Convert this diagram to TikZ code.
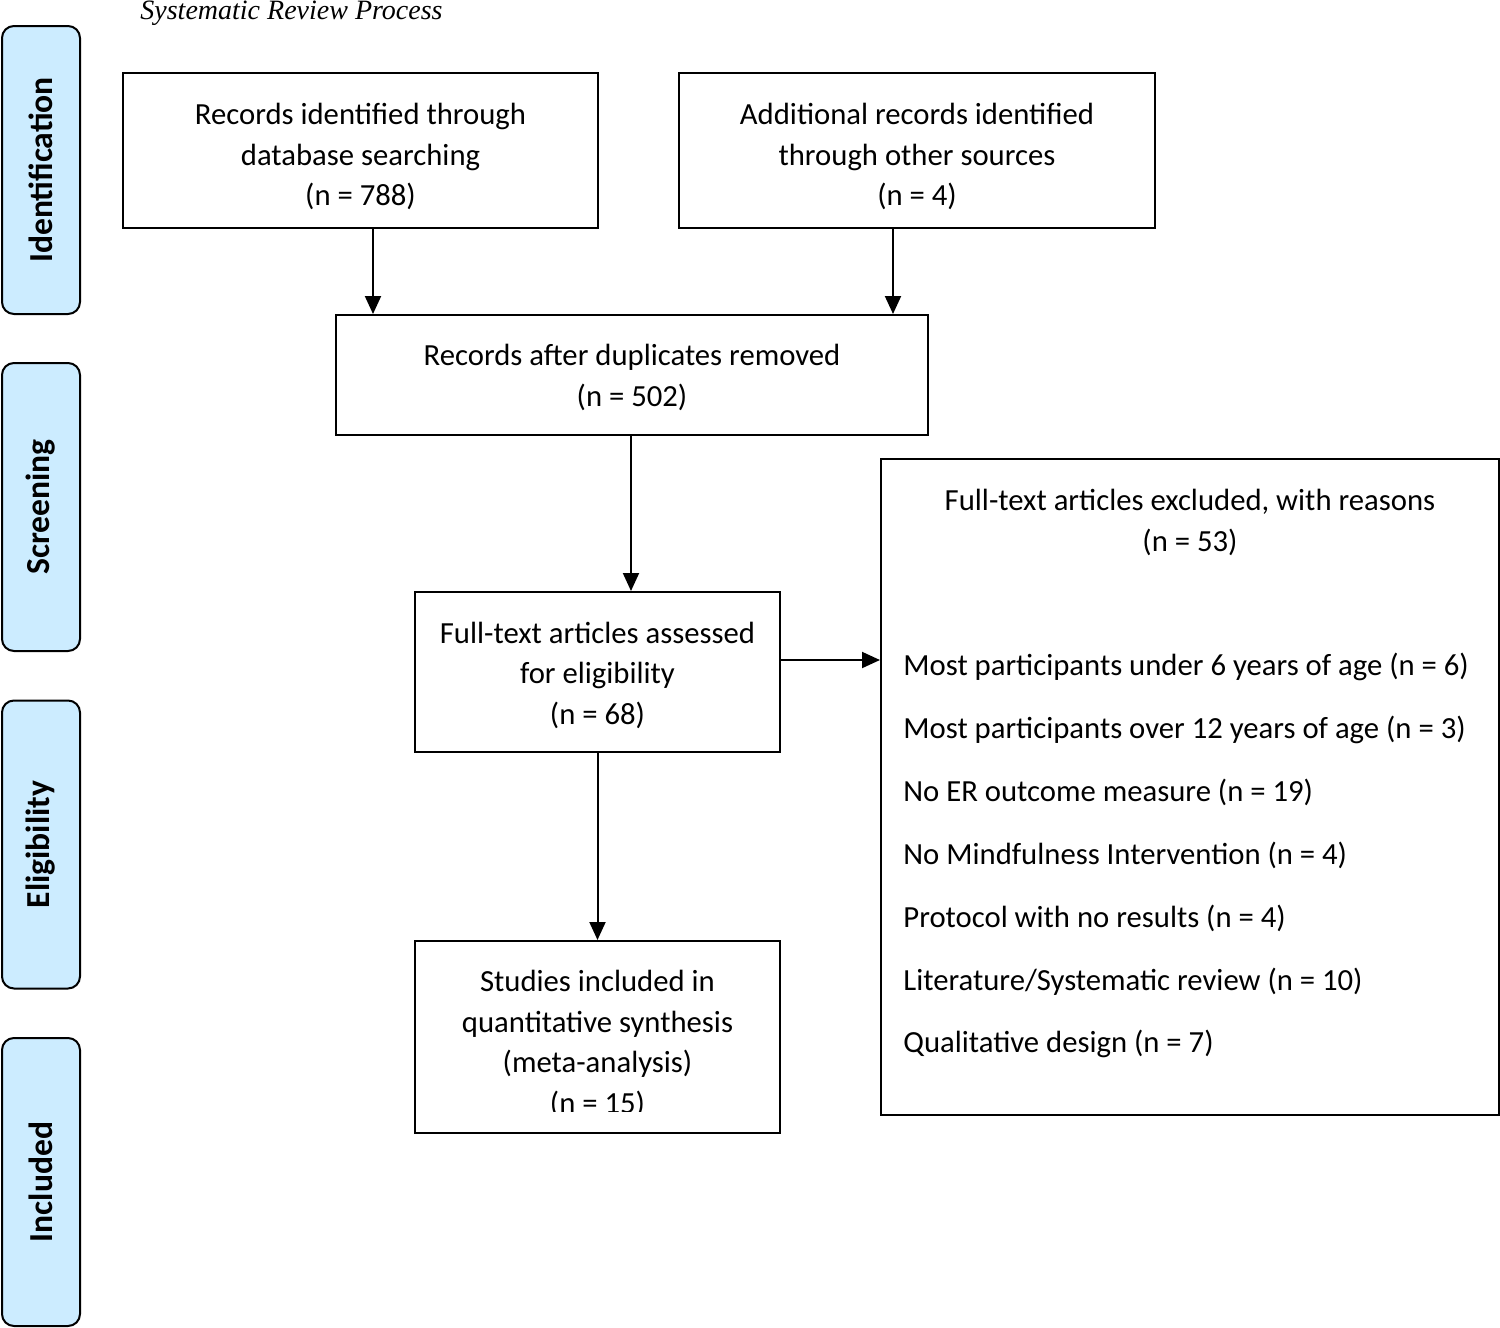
\documentclass[tikz,border=0pt]{standalone}
\usepackage{fontspec}
\setmainfont{Carlito}
\newfontfamily\titlefont{Liberation Serif}
\usetikzlibrary{arrows.meta}
\definecolor{phasefill}{HTML}{CCECFF}
\begin{document}
\begin{tikzpicture}[x=0.5pt,y=-0.5pt,
  box/.style={draw, line width=1pt, inner sep=0pt},
  txt/.style={align=center, inner sep=0pt, font=\fontsize{15.35}{20.25}\selectfont},
  phase/.style={draw, line width=1pt, fill=phasefill, rounded corners=6pt,
    minimum width=39pt, minimum height=144pt, inner sep=0pt},
  phaselabel/.style={rotate=90, inner sep=0pt, font=\bfseries\fontsize{16.8}{20}\selectfont},
  item/.style={anchor=base west, inner sep=0pt, font=\fontsize{15.35}{20.25}\selectfont},
  arr/.style={line width=1pt, -{Triangle[length=9pt,width=8pt]}}]
\useasboundingbox (0,0) rectangle (1500,1328);

% title
\node[anchor=base west, inner sep=0pt, font=\titlefont\itshape\fontsize{14}{16}\selectfont]
  (title) at (140,19) {Systematic Review Process};

% phase bars
\node[phase] (pid) at (41,170) {};
\node[phaselabel] (pidt) at (pid.center) {Identification};
\node[phase] (psc) at (41,507) {};
\node[phaselabel] (psct) at (psc.center) {Screening};
\node[phase] (pel) at (41,844.5) {};
\node[phaselabel] (pelt) at (pel.center) {Eligibility};
\node[phase] (pin) at (41,1182) {};
\node[phaselabel] (pint) at (pin.center) {Included};

% boxes
\node[box, minimum width=237.5pt, minimum height=77.5pt] (db) at (360.5,150.5) {};
\node[txt] (dbt) at (360.5,156.5)
  {Records identified through\\database searching\\(n = 788)};
\node[box, minimum width=238pt, minimum height=77.5pt] (other) at (917,150.5) {};
\node[txt] (othert) at (917,156.5)
  {Additional records identified\\through other sources\\(n = 4)};
\node[box, minimum width=296pt, minimum height=60pt] (dup) at (632,375) {};
\node[txt] (dupt) at (632,377.5)
  {Records after duplicates removed\\(n = 502)};
\node[box, minimum width=182.5pt, minimum height=80pt] (full) at (597.5,672) {};
\node[txt] (fullt) at (597.5,675)
  {Full-text articles assessed\\for eligibility\\(n = 68)};
\node[box, minimum width=182.5pt, minimum height=96pt] (incl) at (597.5,1037) {};
\begin{scope}
  \clip (415,941) rectangle (780,1111);
  \node[txt] (inclt) at (597.5,1044)
    {Studies included in\\quantitative synthesis\\(meta-analysis)\\(n = 15)};
\end{scope}
\node[box, minimum width=309pt, minimum height=328pt] (excl) at (1190,787) {};
\node[txt] (exclhead) at (1190,522.5)
  {Full-text articles excluded, with reasons\\(n = 53)};
\node[item] (r1) at (903,675) {Most participants under 6 years of age (n = 6)};
\node[item] (r2) at (903,738) {Most participants over 12 years of age (n = 3)};
\node[item] (r3) at (903,801) {No ER outcome measure (n = 19)};
\node[item] (r4) at (903,864) {No Mindfulness Intervention (n = 4)};
\node[item] (r5) at (903,927) {Protocol with no results (n = 4)};
\node[item] (r6) at (903,990) {Literature/Systematic review (n = 10)};
\node[item] (r7) at (903,1052) {Qualitative design (n = 7)};

% arrows
\draw[arr] (db.south -| 373,0) -- (dup.north -| 373,0);
\draw[arr] (other.south -| 893,0) -- (dup.north -| 893,0);
\draw[arr] (dup.south -| 631,0) -- (full.north -| 631,0);
\draw[arr] (full.south) -- (incl.north);
\draw[arr] (full.east |- 0,660) -- (excl.west |- 0,660);
\end{tikzpicture}
\end{document}
